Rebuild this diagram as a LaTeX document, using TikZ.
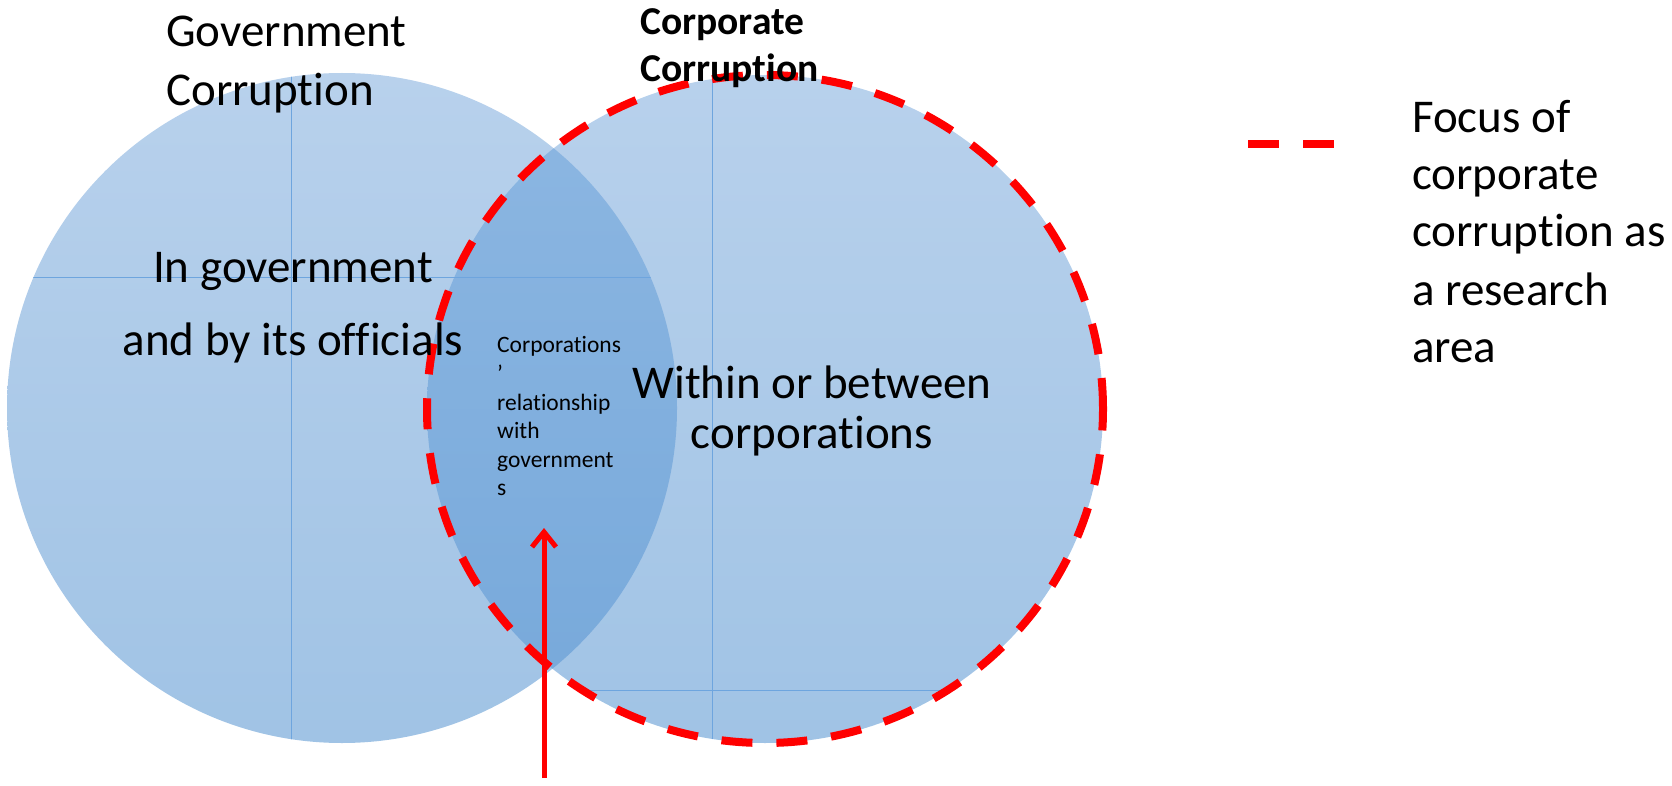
\documentclass[tikz,border=0pt]{standalone}
\usepackage{fontspec}
\setmainfont{Carlito}[Ligatures={NoCommon}]
\usetikzlibrary{arrows.meta}

\definecolor{setTop}{RGB}{184,209,236}
\definecolor{setBottom}{RGB}{160,195,229}
\definecolor{overlapTop}{RGB}{141,183,226}
\definecolor{overlapBottom}{RGB}{118,168,218}
\definecolor{guide}{RGB}{110,165,222}
\definecolor{focusred}{RGB}{255,0,0}

\begin{document}
\begin{tikzpicture}[x=1pt,y=-1pt,
  setfill/.style={top color=setTop, bottom color=setBottom},
  overlapfill/.style={top color=overlapTop, bottom color=overlapBottom},
  guideline/.style={guide, line width=1pt},
  focusline/.style={focusred, line width=8pt, dash pattern=on 31pt off 24pt},
  pointer/.style={focusred, line width=5pt, -{Straight Barb[length=15pt,width=24pt]}},
  bigtext/.style={inner sep=0pt, font=\fontsize{47}{57}\selectfont},
  headtext/.style={inner sep=0pt, anchor=base west, font=\fontsize{39.5}{47}\bfseries\selectfont},
  smalltext/.style={inner sep=0pt, anchor=base west, font=\fontsize{23.5}{29}\selectfont}]

\useasboundingbox (0,0) rectangle (1672,786);

% the two sets
\shade[setfill] (342,408) circle [radius=335pt];
\shade[setfill] (765,409) ellipse [x radius=338pt, y radius=334pt];

% their overlap
\begin{scope}
  \clip (342,408) circle [radius=335pt];
  \shade[overlapfill] (765,409) ellipse [x radius=338pt, y radius=334pt];
\end{scope}

% thin guide lines inside each set
\begin{scope}
  \clip (342,408) circle [radius=335pt];
  \draw[guideline] (291,0) -- (291,786);
  \draw[guideline] (0,277) -- (1000,277);
\end{scope}
\begin{scope}
  \clip (765,409) ellipse [x radius=338pt, y radius=334pt];
  \draw[guideline] (712,0) -- (712,786);
  \draw[guideline] (400,690) -- (1200,690);
\end{scope}

% dashed outline of the corporate set
\draw[focusline] (765,409) ellipse [x radius=338pt, y radius=334pt];

% set titles
\node[bigtext, anchor=base west] (govA) at (166,47) {Government};
\node[bigtext, anchor=base west] (govB) at (166,106) {Corruption};
\node[headtext] (corpA) at (640,35) {Corporate};
\node[headtext] (corpB) at (640,82) {Corruption};

% region texts
\node[bigtext, anchor=base] (inA) at (293,283) {In government};
\node[bigtext, anchor=base] (inB) at (293,355) {and by its officials};
\node[bigtext, anchor=base] (withinA) at (812,398) {Within or between};
\node[bigtext, anchor=base] (withinB) at (812,448) {corporations};

\node[smalltext] (relA) at (497,352) {Corporations};
\node[smalltext] (relB) at (497,381) {’};
\node[smalltext] (relC) at (497,410) {relationship};
\node[smalltext] (relD) at (497,438) {with};
\node[smalltext] (relE) at (497,467) {government};
\node[smalltext] (relF) at (497,495) {s};

% arrow pointing at the overlap
\coordinate (arrowfoot) at (544,778);
\coordinate (arrowtip) at (544,528);
\draw[pointer] (arrowfoot) -- (arrowtip);

% legend
\coordinate (legendA) at (1248,144);
\coordinate (legendB) at (1334,144);
\draw[focusline] (legendA) -- (legendB);
\node[bigtext, anchor=base west] (legA) at (1412,133) {Focus of};
\node[bigtext, anchor=base west] (legB) at (1412,190) {corporate};
\node[bigtext, anchor=base west] (legC) at (1412,247) {corruption as};
\node[bigtext, anchor=base west] (legD) at (1412,305) {a research};
\node[bigtext, anchor=base west] (legE) at (1412,362) {area};
\end{tikzpicture}
\end{document}
